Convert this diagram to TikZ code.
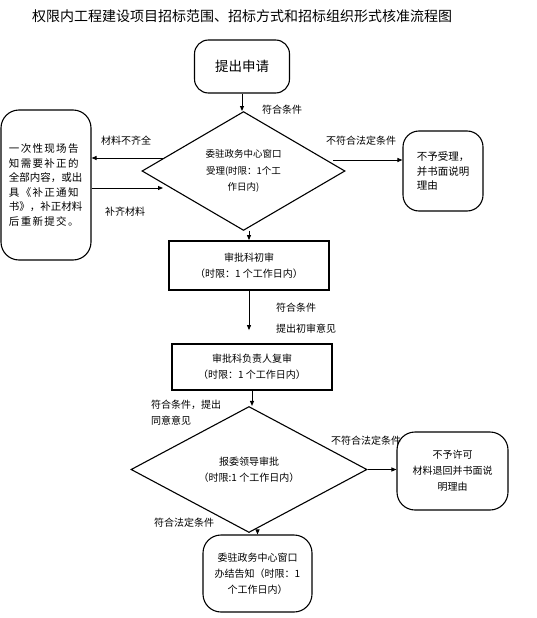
\documentclass[tikz,border=0pt]{standalone}
\usepackage{fontspec}
\setmainfont{Noto Sans CJK SC}
\usetikzlibrary{arrows.meta,positioning,calc,shapes.geometric}
\definecolor{linecol}{RGB}{0,0,0}
\newcommand{\wide}[1]{{\addfontfeature{LetterSpace=12.5}#1}}
\tikzset{
  txt/.style={font=\fontsize{10}{14.5}\selectfont,inner sep=0pt,align=left},
  rb/.style={draw=linecol,rounded corners=14pt,line width=1.1pt,align=center,font=\fontsize{10}{16}\selectfont},
  bx/.style={draw=linecol,line width=1.8pt,align=center,font=\fontsize{10}{16}\selectfont},
  dm/.style={diamond,draw=linecol,line width=1.1pt,inner sep=0pt,align=center,font=\fontsize{10}{16}\selectfont},
  ar/.style={-{Triangle[length=5pt,width=4pt]},draw=linecol,line width=0.9pt}
}
\begin{document}
\begin{tikzpicture}[x=1pt,y=-1pt]
\path[fill=white] (0,0) rectangle (537,618);
\node[font=\fontsize{14}{16}\selectfont] (title) at (242,16){权限内工程建设项目招标范围、招标方式和招标组织形式核准流程图};
\node[rb,minimum width=95pt,minimum height=53pt,font=\fontsize{13.5}{16}\selectfont] (apply) at (242,66.5){提出申请};
\node[dm,minimum width=203pt,minimum height=108pt,font=\fontsize{9.5}{16.5}\selectfont] (accept) at (243.5,171){委驻政务中心窗口\\受理(时限：1个工\\作日内)};
\node[rb,rounded corners=18pt,minimum width=90pt,minimum height=150pt,text width=74pt,align=left,font=\fontsize{10.5}{14.5}\selectfont] (supply) at (46,185){\wide{一次性现场告}\\\wide{知需要补正的}\\全部内容，或出\\\wide{具《补正通知}\\书》，补正材料\\\wide{后重新提交。}};
\node[rb,rounded corners=16pt,minimum width=80pt,minimum height=80pt,align=left,font=\fontsize{10.5}{14.5}\selectfont] (refuse) at (443,171){不予受理，\\并书面说明\\理由};
\node[bx,minimum width=160pt,minimum height=49pt] (first) at (249,265.5){审批科初审\\（时限：1 个工作日内）};
\node[bx,minimum width=160pt,minimum height=46pt] (second) at (252,367){审批科负责人复审\\（时限：1 个工作日内）};
\node[dm,minimum width=236pt,minimum height=79pt] (leader) at (249,469.5){报委领导审批\\（时限:1 个工作日内）};
\node[rb,rounded corners=18pt,minimum width=111pt,minimum height=78pt] (deny) at (452.5,471){不予许可\\材料退回并书面说\\明理由};
\node[rb,rounded corners=18pt,minimum width=109pt,minimum height=77pt] (notify) at (257.5,573.5){委驻政务中心窗口\\办结告知（时限：1\\个工作日内）};
\node[txt] (lbla) at (282,110){符合条件};
\node[txt] (lblb) at (126,141){材料不齐全};
\node[txt] (lblc) at (125,212){补齐材料};
\node[txt] (lbld) at (361,141){不符合法定条件};
\node[txt] (lble) at (296,308){符合条件};
\node[txt] (lblf) at (306,329){提出初审意见};
\node[txt,anchor=west,font=\fontsize{10}{16}\selectfont] (lblg) at (151,413){符合条件，提出\\同意意见};
\node[txt] (lblh) at (366,441){不符合法定条件};
\node[txt] (lbli) at (184,523){符合法定条件};
\coordinate (m1) at (163,158);
\coordinate (m2) at (163,188);
\coordinate (m3) at (333,160);
\draw[ar] (apply.south) -- (apply.south |- accept.north);
\draw[ar] (m1) -- (m1 -| supply.east);
\draw[ar] (supply.east |- m2) -- (m2);
\draw[ar] (m3) -- (m3 -| refuse.west);
\draw[ar] (accept.south -| first.north) -- (first.north);
\draw[ar,shorten >=13pt] (first.south) -- (first.south |- second.north);
\draw[ar] (second.south) -- (second.south |- leader.north);
\draw[ar] (leader.east) -- (leader.east -| deny.west);
\draw[ar] (leader.south -| notify.north) -- (notify.north);
\end{tikzpicture}
\end{document}
